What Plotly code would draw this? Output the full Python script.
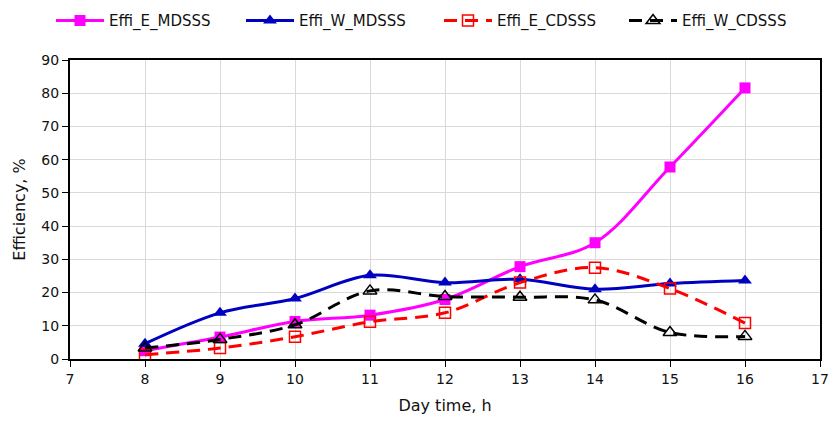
import plotly.graph_objects as go

hours = [8, 9, 10, 11, 12, 13, 14, 15, 16]
effi_e_mdsss = [2.5, 6.6, 11.3, 13.2, 17.9, 27.8, 35.0, 57.8, 81.6]
effi_w_mdsss = [4.6, 13.9, 18.2, 25.2, 23.0, 24.0, 21.0, 22.7, 23.6]
effi_e_cdsss = [1.3, 3.3, 6.7, 11.2, 13.9, 23.0, 27.5, 21.2, 10.8]
effi_w_cdsss = [3.3, 5.9, 10.3, 20.5, 18.8, 18.6, 17.8, 8.0, 6.8]

font = "'DejaVu Sans', sans-serif"
dash = "13px,8px"

fig = go.Figure()
fig.add_trace(go.Scatter(x=hours, y=effi_e_mdsss, name="Effi_E_MDSSS", mode="lines+markers",
                         line=dict(color="#ff00ff", width=3, shape="spline", smoothing=1),
                         marker=dict(symbol="square", size=11, color="#ff00ff"), legend="legend"))
fig.add_trace(go.Scatter(x=hours, y=effi_w_mdsss, name="Effi_W_MDSSS", mode="lines+markers",
                         line=dict(color="#0000c0", width=3, shape="spline", smoothing=1),
                         marker=dict(symbol="triangle-up", size=12, color="#0000c0"), legend="legend2"))
fig.add_trace(go.Scatter(x=hours, y=effi_e_cdsss, name="Effi_E_CDSSS", mode="lines+markers",
                         line=dict(color="#ff0000", width=3, dash=dash, shape="spline", smoothing=1),
                         marker=dict(symbol="square-open", size=11, color="#ff0000", line=dict(width=1.5)),
                         legend="legend3"))
fig.add_trace(go.Scatter(x=hours, y=effi_w_cdsss, name="Effi_W_CDSSS", mode="lines+markers",
                         line=dict(color="#000000", width=3, dash=dash, shape="spline", smoothing=1),
                         marker=dict(symbol="triangle-up-open", size=12, color="#000000", line=dict(width=1.5)),
                         legend="legend4"))

def leg(xpx):
    return dict(orientation="h", x=xpx / 838, y=0.99, xref="container", yref="container",
                yanchor="top", xanchor="left", font=dict(size=15), itemwidth=48,
                bgcolor="rgba(0,0,0,0)")

fig.update_layout(
    width=838, height=423,
    showlegend=True,
    margin=dict(l=70, r=9, t=60, b=64),
    paper_bgcolor="white", plot_bgcolor="white",
    font=dict(family=font, size=14, color="#111111"),
    legend=leg(51), legend2=leg(241), legend3=leg(439), legend4=leg(624),
    xaxis=dict(range=[7, 17], dtick=1, showgrid=True, gridcolor="#d9d9d9", gridwidth=1,
               showline=True, linecolor="black", linewidth=2, mirror=True,
               ticks="outside", ticklen=6, tickcolor="black", zeroline=False,
               title=dict(text="Day time, h", font=dict(size=16), standoff=14)),
    yaxis=dict(range=[0, 90], dtick=10, showgrid=True, gridcolor="#d9d9d9", gridwidth=1,
               showline=True, linecolor="black", linewidth=2, mirror=True,
               ticks="outside", ticklen=6, tickcolor="black", zeroline=False,
               title=dict(text="Efficiency, %", font=dict(size=16), standoff=12)),
)

fig.write_html("out.html")
